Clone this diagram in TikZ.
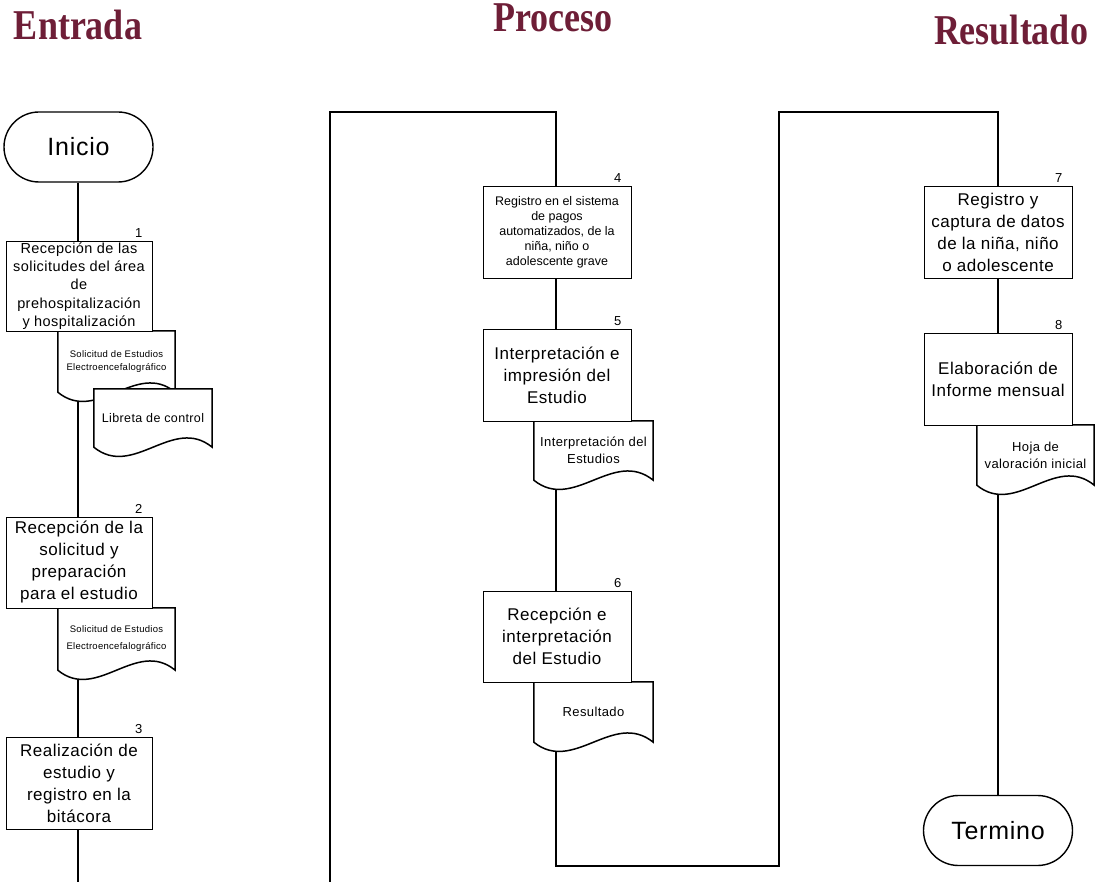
\documentclass[tikz,border=0pt]{standalone}
\usepackage{fontspec}
\setmainfont{Liberation Sans}[LetterSpace=3]
\newfontfamily\titlefont{Liberation Serif}
\newfontfamily\tightfont{Liberation Sans}
\usetikzlibrary{shapes.misc,calc,backgrounds}
\definecolor{titlered}{RGB}{110,30,55}

\tikzset{
  conn/.style={line width=1.6pt, draw=black},
  stepbox/.style={draw=black, line width=0.9pt, fill=white, rectangle, inner sep=0pt,
    align=center},
  bigtxt/.style={font=\fontsize{17}{22}\selectfont},
  terminal/.style={draw=black, line width=1.4pt, fill=white, rounded rectangle,
    minimum width=149pt, minimum height=70pt, inner sep=0pt,
    font=\fontsize{25}{30}\selectfont},
  docnode/.style={rectangle, inner sep=0pt, align=center},
  docline/.style={draw=black, line width=1.5pt, fill=white},
  num/.style={font=\fontsize{13}{15}\selectfont, inner sep=0pt, anchor=base east},
  title/.style={text=titlered, font=\titlefont\bfseries\fontsize{36}{40}\selectfont,
    inner sep=0pt},
}

% document symbol: straight top and sides, wavy bottom edge
\newcommand\docpath[1]{%
  \draw[docline] (#1.south west) -- (#1.north west) -- (#1.north east) -- (#1.south east)
    .. controls ($(#1.south east)!0.333!(#1.south west)+(0,-32)$)
       and ($(#1.south east)!0.667!(#1.south west)+(0,32)$) .. (#1.south west) -- cycle;}

\begin{document}
\begin{tikzpicture}[x=1pt,y=-1pt]
\useasboundingbox (0,0) rectangle (1098,882);

% column headings
\node[title] (hEntrada) at (78,25) {\scalebox{1}[1.18]{Entrada}};
\node[title] (hProceso) at (553,18) {\scalebox{1}[1.18]{Proceso}};
\node[title] (hResultado) at (1011,30) {\scalebox{1}[1.18]{Resultado}};

% ---- Entrada column ----
\node[terminal] (ini) at (78.5,147) {Inicio};

\node[stepbox, minimum width=146pt, minimum height=90pt,
      font=\fontsize{14.5}{18.3}\selectfont] (b1) at (79,286)
  {Recepción de las\\solicitudes del área\\de\\prehospitalización\\y hospitalización};
\node[num] (n1) at ($(b1.north east)+(-10,-3)$) {1};

\node[docnode, minimum width=117pt, minimum height=61pt,
      font=\fontsize{9.5}{13}\selectfont] (d1) at (116.5,361.5)
  {Solicitud de Estudios\\Electroencefalográfico};
\node[docnode, minimum width=118pt, minimum height=58pt,
      font=\fontsize{12.5}{15}\selectfont] (lib) at (153,418)
  {Libreta de control};

\node[stepbox, bigtxt, minimum width=146pt, minimum height=91pt] (b2) at (79,562.5)
  {Recepción de la\\solicitud y\\preparación\\para el estudio};
\node[num] (n2) at ($(b2.north east)+(-10,-3)$) {2};

\node[docnode, minimum width=117pt, minimum height=62pt,
      font=\fontsize{9.5}{17}\selectfont] (d2) at (116.5,639)
  {Solicitud de Estudios\\Electroencefalográfico};

\node[stepbox, bigtxt, minimum width=146pt, minimum height=92pt] (b3) at (79,783)
  {Realización de\\estudio y\\registro en la\\bitácora};
\node[num] (n3) at ($(b3.north east)+(-10,-3)$) {3};

% ---- Proceso column ----
\node[stepbox, minimum width=148pt, minimum height=92pt,
      font=\tightfont\fontsize{12.5}{15}\selectfont] (b4) at (557,232)
  {Registro en el sistema\\de pagos\\automatizados, de la\\niña, niño o\\adolescente grave};
\node[num] (n4) at ($(b4.north east)+(-10,-3)$) {4};

\node[stepbox, bigtxt, minimum width=148pt, minimum height=92pt] (b5) at (557,375)
  {Interpretación e\\impresión del\\Estudio};
\node[num] (n5) at ($(b5.north east)+(-10,-3)$) {5};

\node[docnode, minimum width=119pt, minimum height=59pt,
      font=\fontsize{13}{16.5}\selectfont] (d5) at (593.5,450.5)
  {Interpretación del\\Estudios};

\node[stepbox, bigtxt, minimum width=148pt, minimum height=91pt] (b6) at (557,636.5)
  {Recepción e\\interpretación\\del Estudio};
\node[num] (n6) at ($(b6.north east)+(-10,-3)$) {6};

\node[docnode, minimum width=119pt, minimum height=60pt,
      font=\fontsize{13}{16}\selectfont] (d6) at (593.5,712)
  {Resultado};

% ---- Resultado column ----
\node[stepbox, bigtxt, minimum width=148pt, minimum height=92pt] (b7) at (998,232)
  {Registro y\\captura de datos\\de la niña, niño\\o adolescente};
\node[num] (n7) at ($(b7.north east)+(-10,-3)$) {7};

\node[stepbox, bigtxt, minimum width=148pt, minimum height=92pt] (b8) at (998,379)
  {Elaboración de\\Informe mensual};
\node[num] (n8) at ($(b8.north east)+(-10,-3)$) {8};

\node[docnode, minimum width=117pt, minimum height=60pt,
      font=\fontsize{13}{17}\selectfont] (d8) at (1035.5,455)
  {Hoja de\\valoración inicial};

\node[terminal] (fin) at (998,830.5) {Termino};

% flow-line columns, off-sheet ends and corner points
\coordinate (colA) at (78,0);
\coordinate (outA) at (78,882);
\coordinate (inB) at (330,882);
\coordinate (topB) at (330,112);
\coordinate (botB) at (556,866);
\coordinate (botC) at (779,866);
\coordinate (topC) at (779,112);

\begin{scope}[on background layer]
  % flow lines
  \draw[conn] (ini.south -| colA) -- (b1.north -| colA);
  \draw[conn] (b1.south -| colA) -- (b2.north -| colA);
  \draw[conn] (b2.south -| colA) -- (b3.north -| colA);
  \draw[conn] (b3.south -| colA) -- (outA);
  \draw[conn] (inB) -- (topB) -| (b4.north -| botB);
  \draw[conn] (b4.south -| botB) -- (b5.north -| botB);
  \draw[conn] (b5.south -| botB) -- (b6.north -| botB);
  \draw[conn] (b6.south -| botB) -- (botB) -- (botC) -- (topC) -| (b7.north);
  \draw[conn] (b7.south) -- (b8.north);
  \draw[conn] (b8.south) -- (fin.north);
  % document symbols
  \docpath{d1}
  \docpath{lib}
  \docpath{d2}
  \docpath{d5}
  \docpath{d6}
  \docpath{d8}
\end{scope}
\end{tikzpicture}
\end{document}
